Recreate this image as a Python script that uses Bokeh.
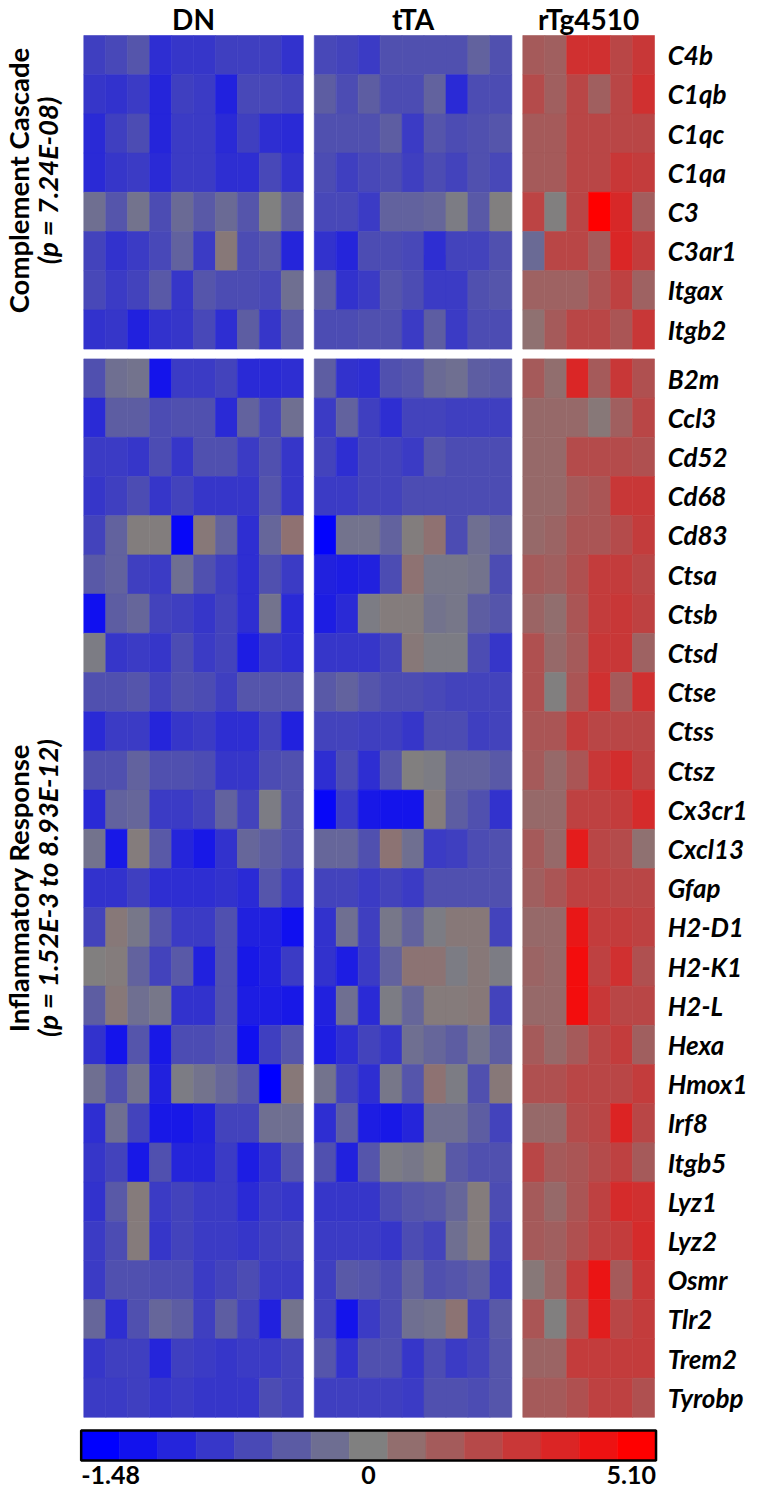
import math
from bokeh.plotting import figure
from bokeh.models import Range1d, ColumnDataSource
from bokeh.core.properties import value
from bokeh.embed import file_html
from bokeh.resources import INLINE

# ---------------- data ----------------
groups = ["DN", "tTA", "rTg4510"]
block_titles = ["Complement Cascade", "Inflammatory Response"]
block_pvalues = ["(p = 7.24E-08)", "(p = 1.52E-3 to 8.93E-12)"]

genes_complement = ["C4b", "C1qb", "C1qc", "C1qa", "C3", "C3ar1", "Itgax", "Itgb2"]
genes_inflammatory = ["B2m", "Ccl3", "Cd52", "Cd68", "Cd83", "Ctsa", "Ctsb", "Ctsd",
                      "Ctse", "Ctss", "Ctsz", "Cx3cr1", "Cxcl13", "Gfap", "H2-D1",
                      "H2-K1", "H2-L", "Hexa", "Hmox1", "Irf8", "Itgb5", "Lyz1",
                      "Lyz2", "Osmr", "Tlr2", "Trem2", "Tyrobp"]

# z-scores, one row per gene (complement genes first, then inflammatory genes)
DN = [
    [-0.75, -0.65, -0.5, -0.95, -0.85, -0.85, -0.75, -0.75, -0.75, -0.9],
    [-0.85, -0.9, -0.8, -1.05, -0.75, -0.8, -1.1, -0.65, -0.65, -0.7],
    [-1.0, -0.75, -0.6, -1.05, -0.8, -0.8, -1.0, -0.75, -0.95, -1.0],
    [-1.0, -0.85, -0.8, -1.0, -0.8, -0.8, -0.95, -0.95, -0.65, -0.9],
    [-0.2, -0.5, -0.15, -0.6, -0.25, -0.45, -0.25, -0.5, 0.0, -0.4],
    [-0.7, -0.9, -0.8, -0.65, -0.35, -0.8, 0.3, -0.6, -0.5, -1.05],
    [-0.65, -0.8, -0.7, -0.45, -0.85, -0.5, -0.6, -0.6, -0.65, -0.2],
    [-0.9, -0.85, -1.1, -0.9, -0.85, -0.65, -0.95, -0.4, -0.85, -0.45],
    [-0.55, -0.2, -0.15, -1.25, -0.8, -0.8, -0.7, -1.0, -1.0, -0.95],
    [-1.0, -0.4, -0.4, -0.6, -0.55, -0.55, -1.0, -0.35, -0.65, -0.2],
    [-0.8, -0.8, -0.85, -0.6, -0.85, -0.55, -0.55, -0.8, -0.55, -0.85],
    [-0.85, -0.75, -0.6, -0.85, -0.7, -0.85, -0.85, -0.85, -0.5, -0.85],
    [-0.7, -0.35, 0.1, 0.1, -1.4, 0.3, -0.35, -0.95, -0.3, 0.6],
    [-0.45, -0.35, -0.75, -0.8, -0.2, -0.55, -0.75, -0.95, -0.55, -0.8],
    [-1.3, -0.4, -0.3, -0.7, -0.75, -0.85, -0.7, -0.95, -0.15, -1.0],
    [-0.05, -0.85, -0.8, -0.85, -0.6, -0.8, -0.7, -1.15, -0.85, -0.95],
    [-0.55, -0.55, -0.5, -0.7, -0.55, -0.6, -0.75, -0.5, -0.5, -0.5],
    [-1.0, -0.8, -0.8, -1.05, -0.85, -0.8, -0.95, -0.95, -0.7, -1.1],
    [-0.55, -0.55, -0.35, -0.55, -0.55, -0.6, -0.85, -0.85, -0.6, -0.55],
    [-1.0, -0.35, -0.3, -0.8, -0.8, -0.7, -0.35, -0.7, -0.05, -0.55],
    [-0.15, -1.2, 0.15, -0.45, -1.05, -1.2, -0.9, -0.3, -0.4, -0.55],
    [-0.9, -0.9, -0.75, -0.95, -0.95, -0.95, -0.9, -1.0, -0.5, -0.8],
    [-0.7, 0.3, -0.1, -0.5, -0.8, -0.8, -0.55, -1.1, -1.1, -1.3],
    [0.05, 0.15, -0.35, -0.7, -0.45, -1.1, -0.55, -1.2, -1.1, -0.8],
    [-0.4, 0.3, -0.2, -0.1, -0.9, -0.9, -0.55, -1.15, -1.15, -1.2],
    [-0.9, -1.25, -0.5, -1.2, -0.6, -0.6, -0.5, -1.3, -0.75, -0.5],
    [-0.2, -0.55, -0.15, -1.1, -0.05, -0.15, -0.3, -0.5, -1.48, 0.3],
    [-0.95, -0.2, -0.7, -1.2, -1.2, -1.1, -0.7, -0.7, -0.2, -0.2],
    [-0.85, -0.7, -1.2, -0.55, -1.05, -1.05, -0.8, -1.15, -0.9, -0.5],
    [-0.9, -0.45, 0.2, -0.8, -0.7, -0.8, -0.8, -1.0, -0.8, -0.85],
    [-0.8, -0.6, 0.2, -0.85, -0.7, -0.8, -0.8, -0.85, -0.75, -0.7],
    [-0.8, -0.55, -0.55, -0.6, -0.6, -0.8, -0.7, -0.6, -0.8, -0.8],
    [-0.3, -0.95, -0.55, -0.3, -0.4, -0.75, -0.4, -0.7, -1.1, -0.15],
    [-0.85, -0.75, -0.75, -1.05, -0.75, -0.8, -0.85, -0.8, -0.8, -0.7],
    [-0.8, -0.8, -0.75, -0.85, -0.8, -0.85, -0.85, -0.85, -0.6, -0.7],
]

tTA = [
    [-0.65, -0.7, -0.8, -0.55, -0.55, -0.55, -0.55, -0.35, -0.55],
    [-0.4, -0.6, -0.4, -0.6, -0.6, -0.35, -1.0, -0.6, -0.6],
    [-0.55, -0.55, -0.55, -0.4, -0.8, -0.5, -0.6, -0.55, -0.5],
    [-0.6, -0.75, -0.65, -0.6, -0.75, -0.6, -0.7, -0.55, -0.65],
    [-0.65, -0.65, -0.8, -0.35, -0.35, -0.3, -0.05, -0.45, 0.05],
    [-0.9, -1.05, -0.6, -0.6, -0.65, -0.95, -0.7, -0.7, -0.55],
    [-0.4, -0.9, -0.8, -0.5, -0.6, -0.8, -0.8, -0.55, -0.5],
    [-0.6, -0.6, -0.55, -0.55, -0.8, -0.4, -0.8, -0.6, -0.6],
    [-0.4, -0.9, -0.95, -0.55, -0.5, -0.25, -0.2, -0.4, -0.45],
    [-0.8, -0.35, -0.75, -0.95, -0.7, -0.7, -0.75, -0.75, -0.75],
    [-0.7, -0.95, -0.7, -0.7, -0.8, -0.5, -0.6, -0.6, -0.6],
    [-0.8, -0.8, -0.7, -0.7, -0.6, -0.6, -0.6, -0.6, -0.6],
    [-1.45, -0.15, -0.15, -0.35, 0.1, 0.6, -0.6, -0.2, -0.35],
    [-1.1, -1.15, -1.1, -0.6, 0.55, -0.1, -0.1, -0.15, -0.6],
    [-1.15, -1.0, -0.05, 0.15, 0.15, -0.15, -0.1, -0.4, -0.5],
    [-0.85, -0.85, -0.85, -0.7, 0.3, -0.05, -0.05, -0.6, -0.85],
    [-0.45, -0.35, -0.5, -0.6, -0.6, -0.65, -0.7, -0.7, -0.7],
    [-0.7, -0.7, -0.75, -0.75, -0.85, -0.6, -0.6, -0.75, -0.7],
    [-0.95, -0.6, -0.95, -0.5, 0.05, -0.05, -0.35, -0.35, -0.45],
    [-1.4, -0.8, -1.2, -1.25, -1.25, 0.15, -0.4, -0.55, -0.9],
    [-0.3, -0.3, -0.55, 0.5, -0.2, -0.8, -0.75, -0.6, -0.55],
    [-0.7, -0.7, -0.8, -0.7, -0.8, -0.55, -0.55, -0.55, -0.55],
    [-0.9, -0.2, -0.75, -0.1, -0.35, -0.05, 0.3, 0.3, -0.7],
    [-0.9, -1.15, -0.8, -0.35, 0.5, 0.5, -0.05, 0.3, -0.05],
    [-1.1, -0.2, -1.0, -0.05, -0.3, 0.2, 0.2, 0.3, -0.7],
    [-1.15, -0.95, -0.7, -0.85, -0.2, -0.3, -0.4, -0.15, -0.4],
    [-0.15, -0.7, -0.95, -0.1, -0.5, 0.55, -0.05, -0.55, 0.3],
    [-0.95, -0.4, -1.15, -1.2, -1.05, -0.2, -0.2, -0.4, -0.7],
    [-0.55, -1.1, -0.5, -0.05, -0.1, 0.05, -0.45, -0.55, -0.55],
    [-0.85, -0.85, -0.85, -0.6, -0.5, -0.45, -0.3, 0.15, -0.6],
    [-0.8, -0.8, -0.8, -0.85, -0.6, -0.7, -0.2, 0.15, -0.7],
    [-0.75, -0.45, -0.5, -0.6, -0.35, -0.55, -0.5, -0.4, -0.8],
    [-0.7, -1.25, -0.8, -0.6, -0.2, -0.15, 0.5, -0.75, -0.45],
    [-0.5, -0.9, -0.55, -0.55, -0.85, -0.6, -0.8, -0.7, -0.5],
    [-0.75, -0.75, -0.75, -0.75, -0.8, -0.55, -0.55, -0.6, -0.5],
]

rTg4510 = [
    [1.5, 1.3, 3.2, 3.2, 2.3, 2.9],
    [2.1, 1.3, 2.3, 1.3, 2.3, 3.2],
    [1.5, 1.5, 2.3, 2.3, 2.3, 2.3],
    [1.5, 1.5, 2.3, 2.3, 2.9, 2.7],
    [2.4, 0.05, 2.3, 5.1, 3.5, 1.4],
    [-0.25, 2.3, 2.3, 1.5, 3.6, 2.7],
    [1.2, 1.2, 1.2, 1.8, 2.5, 1.2],
    [0.6, 1.5, 2.3, 2.3, 1.7, 2.9],
    [1.5, 0.7, 3.6, 1.5, 2.9, 1.9],
    [0.9, 0.9, 0.9, 0.3, 1.3, 2.3],
    [0.9, 0.9, 2.1, 2.1, 2.1, 1.9],
    [0.9, 0.9, 1.5, 1.7, 2.9, 2.9],
    [0.9, 1.1, 1.7, 1.7, 2.1, 2.7],
    [1.5, 1.3, 1.9, 2.7, 2.7, 2.3],
    [1.1, 0.7, 1.7, 2.7, 2.9, 2.5],
    [1.9, 0.9, 1.5, 2.9, 2.9, 1.2],
    [1.9, 0.05, 1.7, 3.2, 1.5, 3.2],
    [1.7, 1.7, 2.7, 2.3, 2.3, 2.3],
    [1.5, 0.9, 1.7, 2.9, 3.3, 2.5],
    [0.9, 0.9, 2.5, 2.5, 2.7, 3.4],
    [1.5, 0.9, 4.0, 2.3, 2.1, 0.6],
    [1.3, 1.7, 2.5, 2.5, 2.3, 2.3],
    [0.9, 0.9, 4.2, 2.7, 2.7, 2.5],
    [1.1, 0.9, 4.6, 2.5, 3.2, 1.9],
    [0.9, 0.9, 4.6, 2.9, 2.3, 2.3],
    [1.5, 0.9, 1.5, 2.3, 2.7, 1.3],
    [1.9, 1.9, 2.3, 2.3, 2.3, 2.7],
    [0.9, 0.9, 2.1, 2.3, 3.7, 2.3],
    [2.3, 1.5, 1.7, 2.1, 2.5, 1.5],
    [1.5, 0.9, 1.7, 2.5, 3.4, 3.2],
    [1.5, 1.3, 1.9, 2.5, 2.7, 3.4],
    [0.3, 1.1, 2.7, 4.3, 1.5, 2.9],
    [1.7, 0.05, 1.9, 3.9, 2.3, 2.7],
    [1.1, 1.1, 2.7, 2.7, 2.7, 2.7],
    [1.5, 1.5, 1.9, 2.5, 2.5, 1.9],
]

VMIN = -1.48
VMAX = 5.10
scale_labels = ["-1.48", "0", "5.10"]
N_SWATCH = 15

# ---------------- colour mapping ----------------
def to_color(v):
    if v < 0:
        t = min(v / VMIN, 1.0)
        r = g = 128 * (1 - t)
        b = 128 + 127 * t
    else:
        t = min(v / VMAX, 1.0)
        r = 128 + 127 * t
        g = b = 128 * (1 - t)
    return "#%02x%02x%02x" % (int(round(r)), int(round(g)), int(round(b)))

# ---------------- layout (in cell units) ----------------
GROUP_GAP = 0.5
BLOCK_GAP = 0.25
series = [DN, tTA, rTg4510]
ncols = [len(s[0]) for s in series]
group_start = []
acc = 0.0
for n in ncols:
    group_start.append(acc)
    acc += n + GROUP_GAP
x_end = group_start[-1] + ncols[-1]

blocks = [genes_complement, genes_inflammatory]
block_start = []
acc = 0.0
for b in blocks:
    block_start.append(acc)
    acc += len(b) + BLOCK_GAP
y_end = block_start[-1] + len(blocks[-1])

genes = genes_complement + genes_inflammatory
row_y = []
for bi, b in enumerate(blocks):
    for ri in range(len(b)):
        row_y.append(block_start[bi] + ri + 0.5)

xs, ys, cols = [], [], []
for gi, s in enumerate(series):
    for ri, row in enumerate(s):
        for ci, v in enumerate(row):
            xs.append(group_start[gi] + ci + 0.5)
            ys.append(row_y[ri])
            cols.append(to_color(v))

W, H = 764, 1490
CELL_W, CELL_H = 21.95, 39.2
X0_PX, Y0_PX = 83.3, 35.0

p = figure(width=W, height=H, output_backend="svg", toolbar_location=None,
           x_range=Range1d(-X0_PX / CELL_W, (W - X0_PX) / CELL_W),
           y_range=Range1d((H - Y0_PX) / CELL_H, -Y0_PX / CELL_H),
           min_border=0, outline_line_color=None)
p.axis.visible = False
p.grid.visible = False
p.background_fill_color = "white"
p.border_fill_color = "white"

src = ColumnDataSource(dict(x=xs, y=ys, c=cols))
p.rect(x="x", y="y", width=1, height=1, source=src, fill_color="c",
       line_color="c", line_width=0.6)

FONT = value("Lato")

# group headers
hx = [group_start[i] + ncols[i] / 2 for i in range(len(groups))]
p.text(x=hx, y=[-0.41] * len(groups), text=groups, text_font=FONT,
       text_font_style="bold", text_font_size="28px", text_align="center",
       text_baseline="middle", text_color="black")

# gene labels
p.text(x=[x_end + 0.6] * len(genes), y=row_y, text=genes, text_font=FONT,
       text_font_style="bold italic", text_font_size="26px", text_align="left",
       text_baseline="middle", text_color="black")

# block titles (rotated)
title_shift = [-0.3, 0.0]
bc = [block_start[i] + len(blocks[i]) / 2 + title_shift[i] for i in range(len(blocks))]
p.text(x=[-2.97] * 2, y=bc, text=block_titles, angle=math.pi / 2,
       text_font=FONT, text_font_style="bold", text_font_size="27.5px",
       text_align="center", text_baseline="middle", text_color="black")
p.text(x=[-1.65] * 2, y=bc, text=block_pvalues, angle=math.pi / 2,
       text_font=FONT, text_font_style="bold italic", text_font_size="27.5px",
       text_align="center", text_baseline="middle", text_color="black")

# colour scale bar
cb_x0, cb_x1 = -0.12, x_end + 0.07
cb_y = y_end + 0.72
cb_h = 0.77
sw = (cb_x1 - cb_x0) / N_SWATCH
half = (N_SWATCH - 1) / 2
sw_vals = [((i - half) / half) * (-VMIN if i < half else VMAX) for i in range(N_SWATCH)]
p.rect(x=[cb_x0 + sw * (i + 0.5) for i in range(N_SWATCH)], y=[cb_y] * N_SWATCH,
       width=sw, height=cb_h, fill_color=[to_color(v) for v in sw_vals],
       line_color=[to_color(v) for v in sw_vals], line_width=0.6)
p.rect(x=[(cb_x0 + cb_x1) / 2], y=[cb_y], width=cb_x1 - cb_x0, height=cb_h,
       fill_color=None, line_color="black", line_width=2.5)

p.text(x=[cb_x0, (cb_x0 + cb_x1) / 2, cb_x1], y=[y_end + 1.46] * 3, text=scale_labels,
       text_align=["left", "center", "right"], text_font=FONT, text_font_style="bold",
       text_font_size="25px", text_baseline="middle", text_color="black")

open("out.html", "w").write(file_html(p, INLINE))
